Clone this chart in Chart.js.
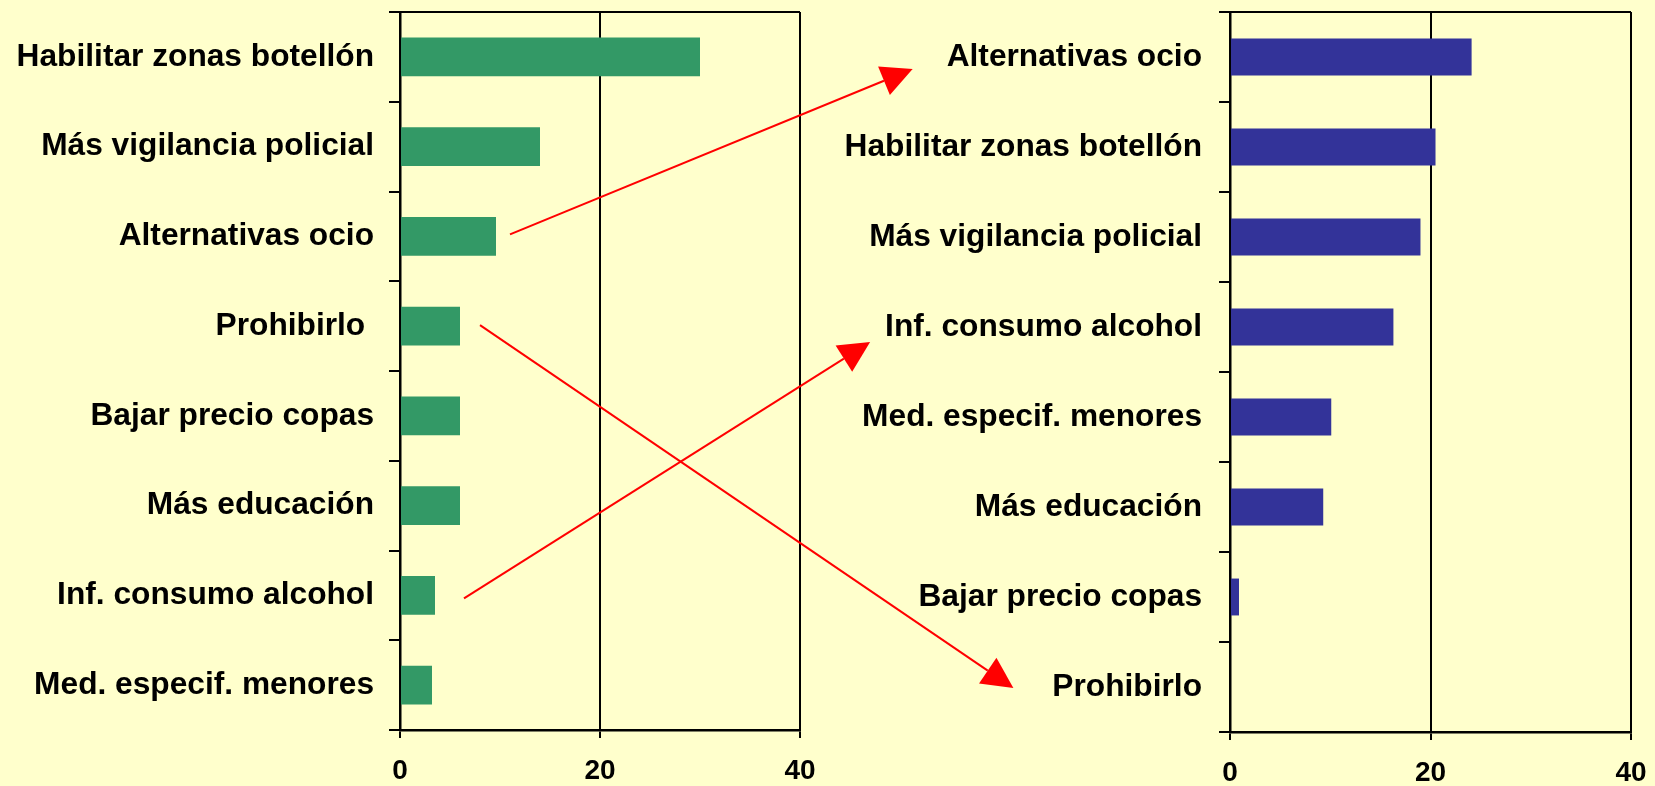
<!DOCTYPE html>
<html><head><meta charset="utf-8">
<script src="https://cdn.jsdelivr.net/npm/chart.js@4/dist/chart.umd.min.js"></script>
<style>
html,body{margin:0;padding:0;background:#FFFFCC;overflow:hidden;}
#wrap{position:relative;width:1655px;height:786px;background:#FFFFCC;}
canvas{position:absolute;top:0;}
</style></head><body>
<div id="wrap">
<canvas id="c1" width="830" height="786" style="left:0;width:830px;height:786px"></canvas>
<canvas id="c2" width="825" height="786" style="left:830px;width:825px;height:786px"></canvas>
<canvas id="ov" width="1655" height="786" style="left:0;width:1655px;height:786px;pointer-events:none"></canvas>
</div>
<script>
// ---- data ----
const leftCategories = ['Habilitar zonas botellón','Más vigilancia policial','Alternativas ocio','Prohibirlo ','Bajar precio copas','Más educación','Inf. consumo alcohol','Med. especif. menores'];
const leftValues = [30, 14, 9.6, 6, 6, 6, 3.5, 3.2];
const rightCategories = ['Alternativas ocio','Habilitar zonas botellón','Más vigilancia policial','Inf. consumo alcohol','Med. especif. menores','Más educación','Bajar precio copas','Prohibirlo'];
const rightValues = [24.1, 20.5, 19, 16.3, 10.1, 9.3, 0.9, 0];
const xTicks = [0, 20, 40];
// arrows: from left category to right category
const arrowFrom = ['Alternativas ocio','Prohibirlo ','Inf. consumo alcohol'];
const arrowTo = ['Alternativas ocio','Prohibirlo','Inf. consumo alcohol'];

const FONT = "'Liberation Sans', Arial, sans-serif";
const LABEL_FONT = {family: FONT, size: 31.7, weight: 'bold'};
const TICK_FONT = {family: FONT, size: 28, weight: 'bold'};

const framePlugin = {
  id: 'frame',
  afterDraw(chart) {
    const {ctx, chartArea: a} = chart;
    ctx.save();
    ctx.strokeStyle = '#000';
    ctx.lineWidth = 2;
    ctx.beginPath();
    ctx.moveTo(a.left, a.top); ctx.lineTo(a.right, a.top);
    ctx.moveTo(a.right, a.top); ctx.lineTo(a.right, a.bottom);
    ctx.stroke();
    ctx.restore();
  }
};

function makeChart(id, labels, values, color, barPct, padRight, xHeight, labelPad) {
  return new Chart(document.getElementById(id), {
    type: 'bar',
    data: { labels, datasets: [{ data: values, backgroundColor: color, borderWidth: 0,
      barPercentage: barPct, categoryPercentage: 1 }] },
    options: {
      indexAxis: 'y', responsive: false, animation: false, devicePixelRatio: 1,
      layout: { padding: { top: 12, right: padRight, left: 0, bottom: 0 } },
      plugins: { legend: { display: false }, tooltip: { enabled: false } },
      scales: {
        x: {
          min: 0, max: 40,
          afterBuildTicks: s => { s.ticks = xTicks.map(v => ({ value: v })); },
          afterFit: s => { s.height = xHeight; s.paddingLeft = 0; s.paddingRight = 0; },
          grid: { color: '#000', lineWidth: 2, tickLength: 8, drawTicks: true },
          border: { display: true, color: '#000', width: 2.5 },
          ticks: { font: TICK_FONT, color: '#000', padding: 16, maxRotation: 0 }
        },
        y: {
          afterFit: s => { s.width = 400; s.paddingTop = 0; s.paddingBottom = 0; },
          grid: { display: true, drawOnChartArea: false, offset: true, color: '#000', lineWidth: 2, tickLength: 11 },
          border: { display: true, color: '#000', width: 2.5 },
          ticks: { font: LABEL_FONT, color: '#000', padding: labelPad, autoSkip: false }
        }
      }
    },
    plugins: [framePlugin]
  });
}

const ch1 = makeChart('c1', leftCategories, leftValues, '#339966', 0.43, 30, 56, 15);
const ch2 = makeChart('c2', rightCategories, rightValues, '#333399', 0.41, 24, 54, 17);

// ---- arrows overlay ----
const arrowStyle = [
  {sx: 14, sy: -2, gap: 34, ey: 12},
  {sx: 20, sy: -1, gap: 39, ey: 1},
  {sx: 29, sy: 3, gap: 15, ey: 15}
];
const ov = document.getElementById('ov').getContext('2d');
const off2 = 830;
ov.font = `bold ${LABEL_FONT.size}px ${FONT}`;
arrowFrom.forEach((fromLab, k) => {
  const st = arrowStyle[k];
  const i = leftCategories.indexOf(fromLab);
  const j = rightCategories.indexOf(arrowTo[k]);
  const x0 = ch1.scales.x.getPixelForValue(leftValues[i]) + st.sx;
  const y0 = ch1.scales.y.getPixelForValue(i) + st.sy;
  const ys = ch2.scales.y;
  const labelRight = off2 + ys.right - 11 - 17;
  const labelLeft = labelRight - ov.measureText(rightCategories[j]).width;
  const x1 = labelLeft - st.gap;
  const y1 = ys.getPixelForValue(j) + st.ey;
  const ang = Math.atan2(y1 - y0, x1 - x0);
  const L = 31, W = 15.5;
  const bx = x1 - L * Math.cos(ang), by = y1 - L * Math.sin(ang);
  ov.strokeStyle = '#FF0000'; ov.fillStyle = '#FF0000'; ov.lineWidth = 2;
  ov.beginPath(); ov.moveTo(x0, y0); ov.lineTo(bx, by); ov.stroke();
  ov.beginPath();
  ov.moveTo(x1, y1);
  ov.lineTo(bx + W * Math.sin(ang), by - W * Math.cos(ang));
  ov.lineTo(bx - W * Math.sin(ang), by + W * Math.cos(ang));
  ov.closePath(); ov.fill();
});
</script>
</body></html>
